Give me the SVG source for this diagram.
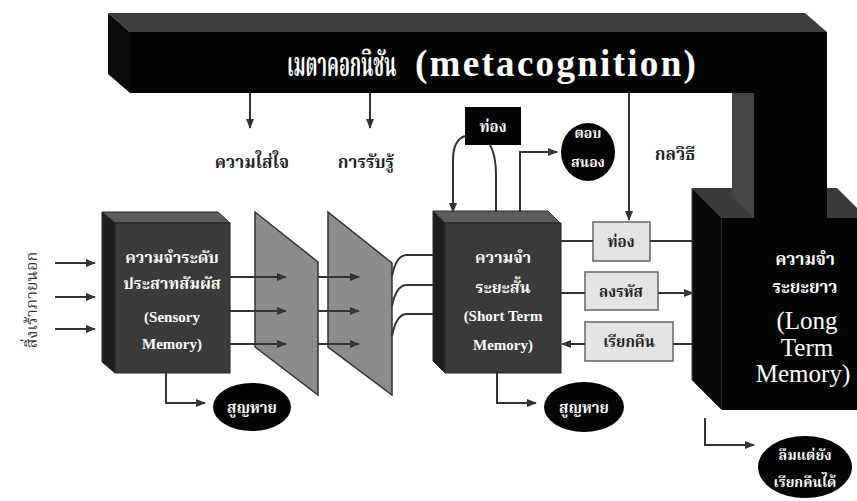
<svg xmlns="http://www.w3.org/2000/svg" width="857" height="501" viewBox="0 0 857 501">
<defs>
<marker id="ah" markerWidth="10" markerHeight="8" refX="9" refY="4" orient="auto" markerUnits="userSpaceOnUse"><path d="M0,0 L10,4 L0,8 z" fill="#333"/></marker>
</defs>
<style>
.ln{fill:none;stroke:#333;stroke-width:2}
.t{font-family:"Liberation Serif","Noto Serif Thai","Noto Sans Thai",serif;font-weight:bold;text-anchor:middle}
.en{font-family:"Liberation Serif",serif;font-weight:normal;text-anchor:middle}
.w{fill:#fff}
.d{fill:#222}
.topf{fill:#5c5c5c;stroke:#2a2a2a;stroke-width:1}
.side{fill:#1e1e1e;stroke:#2a2a2a;stroke-width:1}
.front{fill:#3a3a3a;stroke:#222;stroke-width:1}
.filt{fill:#8c8c8c;stroke:#333;stroke-width:1.5}
.gbox{fill:#e4e4e4;stroke:#666;stroke-width:1.5}
.blk{fill:#050505}
</style>
<rect width="857" height="501" fill="#fff"/>

<g id="ltm">
<polygon points="692,188 837,188 867,218 722,218" fill="#3a3a3a"/>
<polygon points="692,188 722,218 722,410 692,380" fill="#0a0a0a" stroke="#444" stroke-width="1"/>
<rect x="722" y="218" width="140" height="192" class="blk"/>
</g>

<g id="metacognition">
<polygon points="108,13 805,13 827,32 130,32" fill="#3d3d3d"/>
<polygon points="108,13 130,32 130,93 108,74" fill="#0c0c0c"/>
<rect x="130" y="32" width="697" height="61" class="blk"/>
<rect x="754" y="93" width="73" height="125" class="blk"/>
<polygon points="732,93 754,93 754,218 732,197" fill="#454545"/>
<text transform="translate(287,76) scale(0.53,1)" class="t w" font-size="34" style="text-anchor:start">เมตาคอกนิชัน</text>
<text x="415" y="76" class="t w" font-size="37" style="text-anchor:start" letter-spacing="2.3">(metacognition)</text>
</g>

<g id="ltm-text">
<text x="805" y="265" class="t w" font-size="17">ความจำ</text>
<text x="805" y="293" class="t w" font-size="17">ระยะยาว</text>
<text x="807" y="329" class="en w" font-size="25" font-family="'Liberation Serif', serif">(Long</text>
<text x="807" y="356" class="en w" font-size="25" font-family="'Liberation Serif', serif">Term</text>
<text x="803" y="382" class="en w" font-size="25" font-family="'Liberation Serif', serif">Memory)</text>
</g>

<g id="input-label">
<text transform="translate(37,300) rotate(-90)" class="t" font-size="16" fill="#333" style="font-weight:normal">สิ่งเร้าภายนอก</text>
</g>

<g id="filter1"><polygon points="255,212 318,262 318,395 255,347" class="filt"/></g>
<g id="filter2"><polygon points="328,212 392,263 392,395 328,347" class="filt"/></g>

<g id="sensory">
<polygon points="102,212 218,212 230,223 115,223" class="topf"/>
<polygon points="102,212 115,223 115,373 102,362" class="side"/>
<rect x="115" y="223" width="115" height="150" class="front"/>
<text x="172" y="263" class="t w" font-size="16">ความจำระดับ</text>
<text x="172" y="289" class="t w" font-size="16">ประสาทสัมผัส</text>
<text x="172" y="322" class="t w" font-size="15">(Sensory</text>
<text x="172" y="349" class="t w" font-size="15">Memory)</text>
</g>

<g id="stm">
<polygon points="433,211 548,211 560,223 445,223" class="topf"/>
<polygon points="433,211 445,223 445,373 433,361" class="side"/>
<rect x="445" y="223" width="116" height="150" class="front"/>
<text x="503" y="263" class="t w" font-size="16">ความจำ</text>
<text x="503" y="293" class="t w" font-size="16">ระยะสั้น</text>
<text x="503" y="321" class="t w" font-size="15">(Short Term</text>
<text x="503" y="350" class="t w" font-size="15">Memory)</text>
</g>

<g id="rehearse-top">
<rect x="465" y="107" width="56" height="38" class="blk"/>
<text x="493" y="132" class="t w" font-size="15">ท่อง</text>
</g>

<g id="respond">
<ellipse cx="588" cy="152" rx="27" ry="29" class="blk"/>
<text x="588" y="138" class="t w" font-size="14">ตอบ</text>
<text x="588" y="167" class="t w" font-size="14">สนอง</text>
</g>

<g id="rehearse">
<rect x="593" y="222" width="57" height="39" class="gbox"/>
<text x="621" y="247" class="t d" font-size="15">ท่อง</text>
</g>
<g id="encode">
<rect x="585" y="272" width="73" height="38" class="gbox"/>
<text x="621" y="297" class="t d" font-size="15">ลงรหัส</text>
</g>
<g id="retrieve">
<rect x="585" y="322" width="88" height="39" class="gbox"/>
<text x="629" y="347" class="t d" font-size="15">เรียกคืน</text>
</g>

<g id="lost1">
<ellipse cx="252" cy="407" rx="39" ry="24" class="blk"/>
<text x="252" y="413" class="t w" font-size="15">สูญหาย</text>
</g>
<g id="lost2">
<ellipse cx="584" cy="407" rx="40" ry="25" class="blk"/>
<text x="584" y="413" class="t w" font-size="15">สูญหาย</text>
</g>
<g id="forget">
<ellipse cx="805" cy="467" rx="47" ry="31" class="blk"/>
<text x="805" y="460" class="t w" font-size="14">ลืมแต่ยัง</text>
<text x="805" y="487" class="t w" font-size="14">เรียกคืนได้</text>
</g>

<g id="labels">
<text x="252" y="168" class="t d" font-size="17">ความใส่ใจ</text>
<text x="366" y="168" class="t d" font-size="17">การรับรู้</text>
<text x="675" y="160" class="t d" font-size="17">กลวิธี</text>
</g>

<g id="connectors">
<line x1="55" y1="263" x2="95" y2="263" class="ln" marker-end="url(#ah)"/>
<line x1="55" y1="297" x2="95" y2="297" class="ln" marker-end="url(#ah)"/>
<line x1="55" y1="329" x2="95" y2="329" class="ln" marker-end="url(#ah)"/>
<line x1="230" y1="277" x2="286" y2="277" class="ln" marker-end="url(#ah)"/>
<line x1="230" y1="311" x2="286" y2="311" class="ln" marker-end="url(#ah)"/>
<line x1="230" y1="344" x2="286" y2="344" class="ln" marker-end="url(#ah)"/>
<line x1="318" y1="277" x2="359" y2="277" class="ln" marker-end="url(#ah)"/>
<line x1="318" y1="311" x2="359" y2="311" class="ln" marker-end="url(#ah)"/>
<line x1="318" y1="344" x2="359" y2="344" class="ln" marker-end="url(#ah)"/>
<path d="M392,276 Q396,256 406,255 H433" class="ln"/>
<path d="M392,306 Q396,286 406,285 H433" class="ln"/>
<path d="M392,336 Q396,315 406,314 H433" class="ln"/>
<path d="M166,373 V403 H205" class="ln" marker-end="url(#ah)"/>
<path d="M497,373 V403 H536" class="ln" marker-end="url(#ah)"/>
<path d="M705,418 V445 H754" class="ln" marker-end="url(#ah)"/>
<line x1="250" y1="93" x2="250" y2="128" class="ln" marker-end="url(#ah)"/>
<line x1="370" y1="93" x2="370" y2="128" class="ln" marker-end="url(#ah)"/>
<line x1="629" y1="93" x2="629" y2="220" class="ln" marker-end="url(#ah)"/>
<path d="M465,136 Q453,140 453,160 V212" class="ln" marker-end="url(#ah)"/>
<path d="M490,145 Q496,155 496,175 V211" class="ln"/>
<path d="M520,211 V152 H557" class="ln" marker-end="url(#ah)"/>
<line x1="561" y1="241" x2="593" y2="241" class="ln"/>
<line x1="650" y1="241" x2="692" y2="241" class="ln"/>
<line x1="561" y1="293" x2="585" y2="293" class="ln"/>
<line x1="658" y1="293" x2="693" y2="293" class="ln" marker-end="url(#ah)"/>
<line x1="692" y1="344" x2="673" y2="344" class="ln"/>
<line x1="585" y1="344" x2="562" y2="344" class="ln" marker-end="url(#ah)"/>
</g>
</svg>
